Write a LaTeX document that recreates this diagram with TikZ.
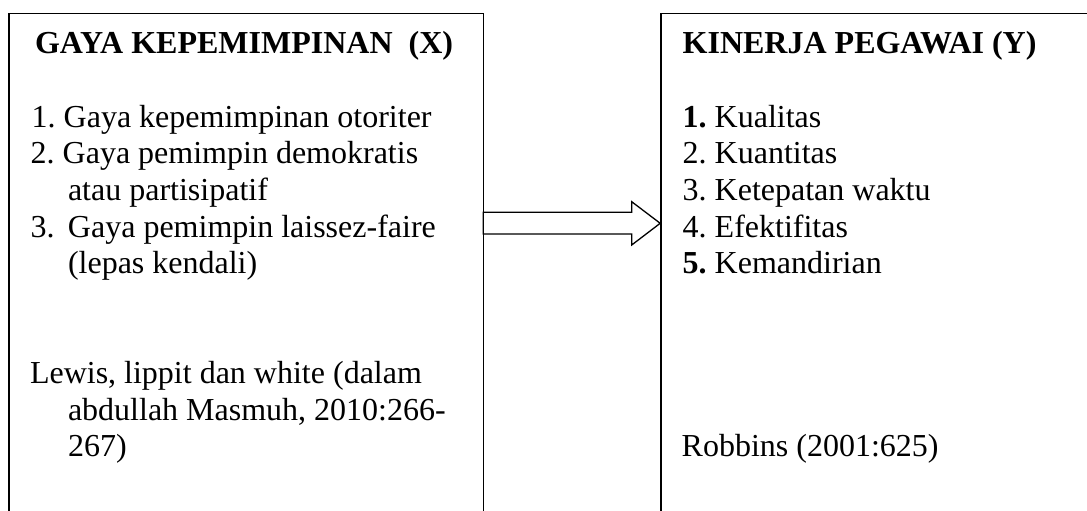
\documentclass[tikz,border=0pt]{standalone}
\usepackage{fontspec}
\setmainfont{Liberation Serif}
\frenchspacing
\begin{document}
\begin{tikzpicture}[x=1pt,y=-1pt,
  panel/.style={draw=black, line width=1.5pt, rectangle, outer sep=0pt, inner sep=0pt, anchor=north west},
  txt/.style={anchor=base west, inner sep=0pt, outer sep=0pt, font=\fontsize{32}{36.6}\selectfont},
  hdr/.style={txt, font=\fontsize{32}{36.6}\selectfont\bfseries},
  hollow/.style={draw=black, line width=1.3pt, fill=white, line join=miter}]
\useasboundingbox (0,0) rectangle (1087,511);
\clip (0,0) rectangle (1087,511);

% the two panels (they run past the lower and right edges)
\node[panel, minimum width=474.3pt, minimum height=560pt] (lbox) at (9,13.3) {};
\node[panel, minimum width=480pt, minimum height=560pt] (rbox) at (661,13.3) {};

% hollow block arrow from the left panel to the right one
\coordinate (s1) at (0,212.3);
\coordinate (s2) at (0,234);
\coordinate (h1) at (631.7,201.7);
\coordinate (h2) at (631.7,245);
\coordinate (mid) at (0,223.3);
\draw[hollow] (lbox.east |- s1) -- (h1 |- s1) -- (h1) -- ([xshift=-0.8pt]rbox.west |- mid)
  -- (h2) -- (h2 |- s2) -- (lbox.east |- s2) -- cycle;

% left panel text
\node[hdr] (xt) at (35,54) {GAYA KEPEMIMPINAN\hspace{16pt}(X)};
\node[txt] (x1) at (31.7,127.2) {1. Gaya kepemimpinan otoriter};
\node[txt] (x2) at (30.7,163.8) {2. Gaya pemimpin demokratis};
\node[txt] (x2b) at (68,200.4) {atau partisipatif};
\node[txt] (x3) at (30.7,237) {3.\hspace{13.3pt}Gaya pemimpin laissez-faire};
\node[txt] (x3b) at (68,273.6) {(lepas kendali)};
\node[txt] (xs1) at (30,383.4) {Lewis, lippit dan white (dalam};
\node[txt] (xs2) at (68,420) {abdullah Masmuh, 2010:266-};
\node[txt] (xs3) at (68,456.6) {267)};

% right panel text
\node[hdr] (yt) at (682.7,54) {KINERJA PEGAWAI (Y)};
\node[txt] (y1) at (682.7,127.2) {\textbf{1.} Kualitas};
\node[txt] (y2) at (682.7,163.8) {2. Kuantitas};
\node[txt] (y3) at (682.7,200.4) {3. Ketepatan waktu};
\node[txt] (y4) at (682.7,237) {4. Efektifitas};
\node[txt] (y5) at (682.7,273.6) {\textbf{5.} Kemandirian};
\node[txt] (ys) at (681.7,456.6) {Robbins (2001:625)};
\end{tikzpicture}
\end{document}
